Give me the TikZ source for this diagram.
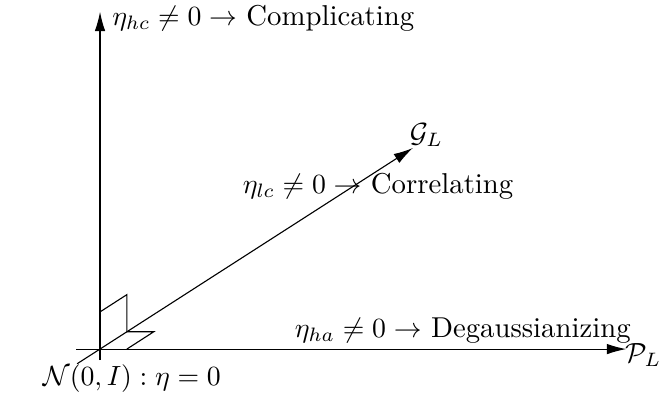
\documentclass[tikz,border=0pt]{standalone}
\usepackage{amsmath,amssymb}
\usepackage{tikz}
\usetikzlibrary{positioning,arrows.meta,calc}
\tikzset{
  axisline/.style={-{Latex[length=7pt,width=3.8pt]},line width=0.4pt},
  cornermark/.style={line width=0.4pt},
  lbl/.style={inner sep=0pt,anchor=base west}
}
\begin{document}
\begin{tikzpicture}[font=\fontsize{10.35}{12.4}\selectfont]
  \useasboundingbox (-1.266,-0.620) rectangle (7.10,4.418);
  % axes
  \coordinate (O) at (0,0);
  \coordinate (Xs) at (-0.30,0);
  \coordinate (Xe) at (6.66,0);
  \coordinate (Ys) at (0,-0.14);
  \coordinate (Ye) at (0,4.27);
  \coordinate (Ds) at (-0.29,-0.186);
  \coordinate (De) at (3.96,2.545);

  \draw[axisline] (Xs) -- (Xe);
  \draw[axisline] (Ys) -- (Ye);
  \draw[axisline] (Ds) -- (De);

  % corner marks
  \coordinate (Ma) at (0,0.47);
  \coordinate (Mb) at (0.34,0.689);
  \coordinate (Mc) at (0.34,0.219);
  \coordinate (Md) at (0.68,0.219);
  \coordinate (Me) at (0.34,0);
  \draw[cornermark] (Ma) -- (Mb) -- (Mc) -- (Md) -- (Me);

  % labels
  \node[lbl] (hc) at (0.15,4.10) {$\eta_{hc}\neq 0\to$ Complicating};
  \node[inner sep=0pt] (GL) at (4.13,2.71) {$\mathcal{G}_L$};
  \node[lbl] (lc) at (1.80,1.975) {$\eta_{lc}\neq 0\to$ Correlating};
  \node[lbl] (ha) at (2.46,0.15) {$\eta_{ha}\neq 0\to$ Degaussianizing};
  \node[lbl] (PL) at (6.64,-0.165) {$\mathcal{P}_L$};
  \node[lbl] (N) at (-0.73,-0.46) {$\mathcal{N}(0,I):\eta=0$};
\end{tikzpicture}
\end{document}
